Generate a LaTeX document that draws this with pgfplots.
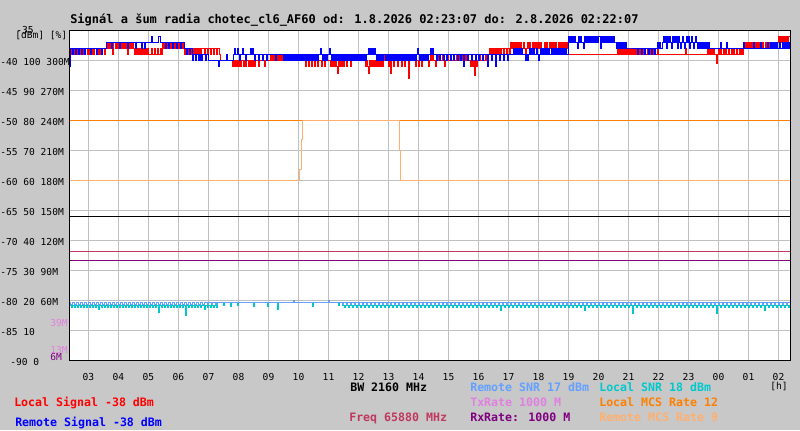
\documentclass[border=0pt]{standalone}
\usepackage{fontspec}
\setmainfont{DejaVu Sans Mono}
\usepackage{pgfplots}
\pgfplotsset{compat=1.18}
\definecolor{bggray}{RGB}{200,200,200}
\definecolor{gridgray}{RGB}{192,192,192}
\definecolor{rsnr}{RGB}{100,160,255}
\definecolor{lsnr}{RGB}{0,200,204}
\definecolor{freqc}{RGB}{192,56,96}
\definecolor{txc}{RGB}{224,128,224}
\definecolor{rxc}{RGB}{128,0,128}
\definecolor{lmcs}{RGB}{255,128,0}
\definecolor{rmcs}{RGB}{255,176,112}
\newcommand{\tlfont}{\fontsize{7.2}{8}\selectfont}
\newcommand{\lgfont}{\fontsize{8.7}{10}\selectfont\bfseries}
\begin{document}
\begin{tikzpicture}
\fill[bggray] (-52.5pt,-52.5pt) rectangle (547.5pt,270pt);
\begin{axis}[
  at={(0pt,0pt)}, anchor=south west, scale only axis,
  width=540pt, height=247.5pt,
  xmin=143, xmax=1583, ymin=-90, ymax=-35, enlargelimits=false,
  axis background/.style={fill=white},
  axis line style={black, line width=0.75pt},
  xtick={180,240,300,360,420,480,540,600,660,720,780,840,900,960,1020,1080,1140,1200,1260,1320,1380,1440,1500,1560},
  xticklabels={03,04,05,06,07,08,09,10,11,12,13,14,15,16,17,18,19,20,21,22,23,00,01,02},
  ytick={-90,-85,-80,-75,-70,-65,-60,-55,-50,-45,-40},
  yticklabels={{\hspace*{7.5pt}-90 0},{-85 10},{-80 20 60M},{-75 30 90M},{-70 40 120M},{-65 50 150M},{-60 60 180M},{-55 70 210M},{-50 80 240M},{-45 90 270M},{-40 100 300M}},
  xticklabel style={font=\tlfont, anchor=base, inner sep=0pt, yshift=-15.5pt},
  yticklabel style={font=\tlfont, anchor=base west, inner sep=0pt, xshift=-52.5pt, yshift=-3.9pt},
  major tick length=0pt,
  grid=major, major grid style={gridgray, line width=0.75pt},
  every axis plot/.append style={line width=0.75pt, mark=none},
]
% Local MCS
\addplot[lmcs] coordinates {(143,-50) (1583,-50)};
% Remote MCS
\addplot[rmcs, const plot] coordinates {(143,-60) (602,-58.33) (605,-53.33) (607,-50) (801,-55) (803,-60) (1583,-60)};
% BW
\addplot[black] coordinates {(143,-66) (1583,-66)};
% Freq
\addplot[freqc] coordinates {(143,-71.88) (1583,-71.88)};
% RxRate
\addplot[rxc] coordinates {(143,-73.38) (1583,-73.38)};
% Local SNR
\addplot[lsnr, const plot] coordinates {
(143,-80.9)(147,-81.3)(149,-80.9)(153,-81.3)(155,-80.9)(159,-81.3)(161,-80.9)(165,-81.3)(167,-80.9)(171,-81.3)(173,-80.9)(177,-81.3)(179,-80.9)(183,-81.3)(185,-80.9)(189,-81.3)(191,-80.9)(195,-81.3)(197,-80.9)(201,-81.6)(203,-80.9)(207,-81.3)(209,-80.9)(213,-81.3)(215,-80.9)(219,-81.3)(221,-80.9)(225,-81.3)(227,-80.9)(231,-81.3)(233,-80.9)(237,-81.3)(239,-80.9)(243,-81.3)(245,-80.9)(249,-81.3)(251,-80.9)(255,-81.3)(257,-80.9)(261,-81.3)(263,-80.9)(267,-81.3)(269,-80.9)(273,-81.3)(275,-80.9)(279,-81.3)(281,-80.9)(285,-81.3)(287,-80.9)(291,-81.3)(293,-80.9)(297,-81.3)(299,-80.9)(303,-81.3)(305,-80.9)(309,-81.3)(311,-80.9)(315,-81.3)(317,-80.9)(321,-82.1)(323,-80.9)(327,-81.3)(329,-80.9)(333,-81.3)(335,-80.9)(339,-81.3)(341,-80.9)(345,-81.3)(347,-80.9)(351,-81.3)(353,-80.9)(357,-81.3)(359,-80.9)(363,-81.3)(365,-80.9)(369,-81.3)(371,-80.9)(375,-82.5)(377,-80.9)(381,-81.3)(383,-80.9)(387,-81.3)(389,-80.9)(393,-81.3)(395,-80.9)(399,-81.3)(401,-80.9)(405,-81.3)(407,-80.9)(411,-81.6)(413,-80.9)(417,-81.3)(419,-80.9)(423,-81.3)(425,-80.9)(429,-81.3)(431,-80.9)(435,-81.3)
(437,-80.45)(449,-80.9)(451,-80.45)(463,-81)(465,-80.45)(477,-80.9)(479,-80.45)(509,-81)(511,-80.45)(537,-81)(539,-80.45)(557,-81.5)(559,-80.45)(627,-81)(629,-80.45)(679,-80.9)(681,-80.45)(687,-80.9)
(691,-81.3)(694,-80.9)(699,-81.3)(702,-80.9)(707,-81.3)(710,-80.9)(715,-81.3)(718,-80.9)(723,-81.3)(726,-80.9)(731,-81.3)(734,-80.9)(739,-81.3)(742,-80.9)(747,-81.3)(750,-80.9)(755,-81.3)(758,-80.9)(763,-81.3)(766,-80.9)(771,-81.3)(774,-80.9)(779,-81.3)(782,-80.9)(787,-81.3)(790,-80.9)(795,-81.3)(798,-80.9)(803,-81.3)(806,-80.9)(811,-81.3)(814,-80.9)(819,-81.3)(822,-80.9)(827,-81.3)(830,-80.9)(835,-81.3)(838,-80.9)(843,-81.3)(846,-80.9)(851,-81.3)(854,-80.9)(859,-81.3)(862,-80.9)(867,-81.3)(870,-80.9)(875,-81.3)(878,-80.9)(883,-81.3)(886,-80.9)(891,-81.3)(894,-80.9)(899,-81.3)(902,-80.9)(907,-81.3)(910,-80.9)(915,-81.3)(918,-80.9)(923,-81.3)(926,-80.9)(931,-81.3)(934,-80.9)(939,-81.3)(942,-80.9)(947,-81.3)(950,-80.9)(955,-81.3)(958,-80.9)(963,-81.3)(966,-80.9)(971,-81.3)(974,-80.9)(979,-81.3)(982,-80.9)(987,-81.3)(990,-80.9)(995,-81.3)(998,-80.9)(1003,-81.7)(1006,-80.9)(1011,-81.3)(1014,-80.9)(1019,-81.3)(1022,-80.9)(1027,-81.3)(1030,-80.9)(1035,-81.3)(1038,-80.9)(1043,-81.3)(1046,-80.9)(1051,-81.3)(1054,-80.9)(1059,-81.3)(1062,-80.9)(1067,-81.3)(1070,-80.9)(1075,-81.3)(1078,-80.9)(1083,-81.3)(1086,-80.9)(1091,-81.3)(1094,-80.9)(1099,-81.3)(1102,-80.9)(1107,-81.3)(1110,-80.9)(1115,-81.3)(1118,-80.9)(1123,-81.3)(1126,-80.9)(1131,-81.3)(1134,-80.9)(1139,-81.3)(1142,-80.9)(1147,-81.3)(1150,-80.9)(1155,-81.3)(1158,-80.9)(1163,-81.3)(1166,-80.9)(1171,-81.7)(1174,-80.9)(1179,-81.3)(1182,-80.9)(1187,-81.3)(1190,-80.9)(1195,-81.3)(1198,-80.9)(1203,-81.3)(1206,-80.9)(1211,-81.3)(1214,-80.9)(1219,-81.3)(1222,-80.9)(1227,-81.3)(1230,-80.9)(1235,-81.3)(1238,-80.9)(1243,-81.3)(1246,-80.9)(1251,-81.3)(1254,-80.9)(1259,-81.3)(1262,-80.9)(1267,-82.2)(1270,-80.9)(1275,-81.3)(1278,-80.9)(1283,-81.3)(1286,-80.9)(1291,-81.3)(1294,-80.9)(1299,-81.3)(1302,-80.9)(1307,-81.3)(1310,-80.9)(1315,-81.3)(1318,-80.9)(1323,-81.3)(1326,-80.9)(1331,-81.3)(1334,-80.9)(1339,-81.3)(1342,-80.9)(1347,-81.3)(1350,-80.9)(1355,-81.3)(1358,-80.9)(1363,-81.3)(1366,-80.9)(1371,-81.3)(1374,-80.9)(1379,-81.3)(1382,-80.9)(1387,-81.3)(1390,-80.9)(1395,-81.3)(1398,-80.9)(1403,-81.3)(1406,-80.9)(1411,-81.3)(1414,-80.9)(1419,-81.3)(1422,-80.9)(1427,-81.3)(1430,-80.9)(1435,-82.2)(1438,-80.9)(1443,-81.3)(1446,-80.9)(1451,-81.3)(1454,-80.9)(1459,-81.3)(1462,-80.9)(1467,-81.3)(1470,-80.9)(1475,-81.3)(1478,-80.9)(1483,-81.3)(1486,-80.9)(1491,-81.3)(1494,-80.9)(1499,-81.3)(1502,-80.9)(1507,-81.3)(1510,-80.9)(1515,-81.3)(1518,-80.9)(1523,-81.3)(1526,-80.9)(1531,-81.7)(1534,-80.9)(1539,-81.3)(1542,-80.9)(1547,-81.3)(1550,-80.9)(1555,-81.3)(1558,-80.9)(1563,-81.3)(1566,-80.9)(1571,-81.3)(1574,-80.9)(1579,-81.3)(1582,-80.9)(1583,-80.9)
};
% Remote SNR
\addplot[rsnr, const plot] coordinates {
(143,-80.45)(145,-80.8)(148,-80.45)(153,-80.8)(156,-80.45)(161,-80.8)(164,-80.45)(169,-80.8)(172,-80.45)(177,-80.8)(180,-80.45)(185,-80.8)(188,-80.45)(193,-80.8)(196,-80.45)(201,-80.8)(204,-80.45)(209,-80.8)(212,-80.45)(217,-80.8)(220,-80.45)(225,-80.8)(228,-80.45)(233,-80.8)(236,-80.45)(241,-80.8)(244,-80.45)(249,-80.8)(252,-80.45)(257,-80.8)(260,-80.45)(265,-80.8)(268,-80.45)(273,-80.8)(276,-80.45)(281,-80.8)(284,-80.45)(289,-80.8)(292,-80.45)(297,-80.8)(300,-80.45)(305,-80.8)(308,-80.45)(313,-80.8)(316,-80.45)(321,-80.8)(324,-80.45)(329,-80.8)(332,-80.45)(337,-80.8)(340,-80.45)(345,-80.8)(348,-80.45)(353,-80.8)(356,-80.45)(361,-80.8)(364,-80.45)(369,-80.8)(372,-80.45)(377,-80.8)(380,-80.45)(385,-80.8)(388,-80.45)(393,-80.8)(396,-80.45)(401,-80.8)(404,-80.45)(409,-80.8)(412,-80.45)(417,-80.8)(420,-80.45)(425,-80.8)(428,-80.45)(433,-80.8)(436,-80.45)
(589,-80.1)(591,-80.45)(659,-80.1)(661,-80.45)
(687,-80.8)(690,-80.45)(695,-80.8)(698,-80.45)(703,-80.8)(706,-80.45)(711,-80.8)(714,-80.45)(719,-80.8)(722,-80.45)(727,-80.8)(730,-80.45)(735,-80.8)(738,-80.45)(743,-80.8)(746,-80.45)(751,-80.8)(754,-80.45)(759,-80.8)(762,-80.45)(767,-80.8)(770,-80.45)(775,-80.8)(778,-80.45)(783,-80.8)(786,-80.45)(791,-80.8)(794,-80.45)(799,-80.8)(802,-80.45)(807,-80.8)(810,-80.45)(815,-80.8)(818,-80.45)(823,-80.8)(826,-80.45)(831,-80.8)(834,-80.45)(839,-80.8)(842,-80.45)(847,-80.8)(850,-80.45)(855,-80.8)(858,-80.45)(863,-80.8)(866,-80.45)(871,-80.8)(874,-80.45)(879,-80.8)(882,-80.45)(887,-80.8)(890,-80.45)(895,-80.8)(898,-80.45)(903,-80.8)(906,-80.45)(911,-80.8)(914,-80.45)(919,-80.8)(922,-80.45)(927,-80.8)(930,-80.45)(935,-80.8)(938,-80.45)(943,-80.8)(946,-80.45)(951,-80.8)(954,-80.45)(959,-80.8)(962,-80.45)(967,-80.8)(970,-80.45)(975,-80.8)(978,-80.45)(983,-80.8)(986,-80.45)(991,-80.8)(994,-80.45)(999,-80.8)(1002,-80.45)(1007,-80.8)(1010,-80.45)(1015,-80.8)(1018,-80.45)(1023,-80.8)(1026,-80.45)(1031,-80.8)(1034,-80.45)(1039,-80.8)(1042,-80.45)(1047,-80.8)(1050,-80.45)(1055,-80.8)(1058,-80.45)(1063,-80.8)(1066,-80.45)(1071,-80.8)(1074,-80.45)(1079,-80.8)(1082,-80.45)(1087,-80.8)(1090,-80.45)(1095,-80.8)(1098,-80.45)(1103,-80.8)(1106,-80.45)(1111,-80.8)(1114,-80.45)(1119,-80.8)(1122,-80.45)(1127,-80.8)(1130,-80.45)(1135,-80.8)(1138,-80.45)(1143,-80.8)(1146,-80.45)(1151,-80.8)(1154,-80.45)(1159,-80.8)(1162,-80.45)(1167,-80.8)(1170,-80.45)(1175,-80.8)(1178,-80.45)(1183,-80.8)(1186,-80.45)(1191,-80.8)(1194,-80.45)(1199,-80.8)(1202,-80.45)(1207,-80.8)(1210,-80.45)(1215,-80.8)(1218,-80.45)(1223,-80.8)(1226,-80.45)(1231,-80.8)(1234,-80.45)(1239,-80.8)(1242,-80.45)(1247,-80.8)(1250,-80.45)(1255,-80.8)(1258,-80.45)(1263,-80.8)(1266,-80.45)(1271,-80.8)(1274,-80.45)(1279,-80.8)(1282,-80.45)(1287,-80.8)(1290,-80.45)(1295,-80.8)(1298,-80.45)(1303,-80.8)(1306,-80.45)(1311,-80.8)(1314,-80.45)(1319,-80.8)(1322,-80.45)(1327,-80.8)(1330,-80.45)(1335,-80.8)(1338,-80.45)(1343,-80.8)(1346,-80.45)(1351,-80.8)(1354,-80.45)(1359,-80.8)(1362,-80.45)(1367,-80.8)(1370,-80.45)(1375,-80.8)(1378,-80.45)(1383,-80.8)(1386,-80.45)(1391,-80.8)(1394,-80.45)(1399,-80.8)(1402,-80.45)(1407,-80.8)(1410,-80.45)(1415,-80.8)(1418,-80.45)(1423,-80.8)(1426,-80.45)(1431,-80.8)(1434,-80.45)(1439,-80.8)(1442,-80.45)(1447,-80.8)(1450,-80.45)(1455,-80.8)(1458,-80.45)(1463,-80.8)(1466,-80.45)(1471,-80.8)(1474,-80.45)(1479,-80.8)(1482,-80.45)(1487,-80.8)(1490,-80.45)(1495,-80.8)(1498,-80.45)(1503,-80.8)(1506,-80.45)(1511,-80.8)(1514,-80.45)(1519,-80.8)(1522,-80.45)(1527,-80.8)(1530,-80.45)(1535,-80.8)(1538,-80.45)(1543,-80.8)(1546,-80.45)(1551,-80.8)(1554,-80.45)(1559,-80.8)(1562,-80.45)(1567,-80.8)(1570,-80.45)(1575,-80.8)(1578,-80.45)(1583,-80.45)
};
% Local Signal
\addplot[red, const plot] coordinates {
(143,-38)(147,-39)(149,-38)(151,-39)(153,-38)(155,-39)(157,-38)(159,-39)(161,-38)(163,-39)(165,-38)(167,-39)(169,-38)(171,-39)(173,-38)
(179,-39)(181,-38)(183,-39)(185,-38)(187,-39)(189,-38)(191,-39)(193,-38)
(199,-39)(201,-38)(203,-39)(205,-38)(213,-39)(215,-38)
(217,-37)(219,-38)(221,-37)(223,-38)(225,-37)(229,-39)(231,-37)(235,-38)(237,-37)(239,-38)(241,-37)(243,-38)(245,-37)(247,-38)(249,-37)(251,-38)(253,-37)(255,-38)(257,-37)(259,-39)(261,-37)(263,-38)(265,-37)(267,-38)(269,-37)(271,-38)
(273,-39)(275,-38)(277,-39)(279,-38)(281,-39)(283,-38)(285,-39)(287,-38)(289,-39)(291,-38)(293,-39)(295,-38)(297,-39)(299,-38)(301,-39)(307,-38)(309,-39)(313,-38)(315,-39)(319,-38)(321,-39)(325,-38)(327,-39)
(329,-37)(331,-38)(333,-37)(335,-38)(337,-37)(339,-38)(341,-37)(343,-38)(345,-37)(347,-38)(349,-37)(351,-38)(353,-37)(355,-38)(357,-37)(359,-38)(361,-37)(363,-38)(365,-37)(367,-38)(369,-37)(371,-38)
(373,-39)(375,-38)(377,-39)(379,-38)(381,-39)(383,-38)(385,-39)(387,-38)(389,-39)(391,-38)(393,-39)(395,-38)(397,-39)(399,-38)(401,-39)(403,-38)(405,-39)(407,-38)(411,-39)(413,-38)(417,-39)(419,-38)(423,-39)(425,-38)(429,-39)(431,-38)(435,-39)(437,-38)(441,-39)
(443,-40)
(467,-41)(469,-40)(471,-41)(473,-40)(475,-41)(477,-40)(479,-41)(481,-40)(483,-41)(485,-40)(489,-41)(491,-40)(493,-41)(495,-40)(499,-41)(501,-40)(503,-41)(505,-40)(507,-41)(509,-40)(511,-41)(513,-40)
(519,-41)(521,-40)(531,-41)(533,-40)
(543,-39)(545,-40)(547,-39)(549,-40)(551,-39)(553,-40)(555,-39)(557,-40)(559,-39)(561,-40)(563,-39)(565,-40)(567,-39)(569,-40)
(613,-41)(615,-40)(619,-41)(621,-40)(625,-41)(627,-40)(631,-41)(633,-40)(637,-41)(639,-40)(645,-41)(647,-40)(651,-41)(653,-40)
(663,-41)(665,-40)(667,-41)(669,-40)(671,-41)(673,-40)(675,-41)(677,-42.3)(679,-40)(681,-41)(683,-40)(685,-41)(687,-40)(689,-41)(691,-40)
(695,-41)(697,-40)(703,-41)(705,-40)
(733,-41)(735,-40)(737,-41)(739,-42.3)(741,-40)(743,-41)(745,-40)(747,-41)(749,-40)(751,-41)(753,-40)(755,-41)(757,-40)(759,-41)(761,-40)(763,-41)(765,-40)(767,-41)(769,-40)
(771,-39)(773,-40)
(779,-41)(781,-40)(783,-42.3)(785,-40)(789,-41)(791,-40)(797,-41)(799,-40)(805,-41)(807,-40)(811,-41)(813,-40)
(819,-43)(821,-40)
(833,-41)(835,-40)(839,-41)(841,-40)(845,-41)(847,-40)(859,-41)(861,-40)
(863,-39)(865,-40)(867,-39)(869,-40)(873,-41)(875,-40)(877,-39)(879,-40)(881,-39)(883,-40)(887,-39)(889,-40)(891,-41)(893,-40)(897,-39)(899,-40)(903,-39)(905,-40)(909,-39)(911,-40)(915,-39)(917,-40)(921,-39)(923,-40)(927,-39)(929,-40)(933,-39)(935,-40)(943,-41)(945,-40)(947,-41)(949,-40)(951,-42.5)(953,-40)(955,-41)(957,-40)(961,-39)(963,-40)(967,-39)(969,-40)(973,-39)(975,-40)
(979,-39)(981,-38)(983,-39)(985,-38)(987,-39)(989,-38)(991,-39)(993,-38)(995,-39)(997,-38)(999,-39)(1001,-38)(1003,-39)(1005,-38)(1009,-39)(1011,-38)(1015,-39)(1017,-38)(1021,-39)
(1023,-37)(1025,-38)(1027,-37)(1029,-38)(1031,-37)(1033,-38)(1035,-37)(1037,-38)(1039,-37)(1041,-38)(1043,-37)(1045,-38)(1049,-37)(1051,-38)(1053,-39)(1055,-38)(1057,-37)(1059,-38)(1061,-37)(1063,-38)(1067,-37)(1069,-38)(1071,-37)(1073,-38)(1075,-37)(1077,-38)(1079,-37)(1081,-38)(1083,-37)(1085,-38)(1087,-39)(1089,-38)(1091,-37)(1093,-38)(1095,-37)(1097,-38)(1101,-37)(1103,-38)(1105,-37)(1107,-38)(1109,-37)(1111,-38)(1113,-37)(1115,-38)(1119,-37)(1121,-38)(1123,-37)(1125,-38)(1127,-37)(1129,-38)(1131,-37)(1133,-38)(1135,-37)(1137,-38)
(1139,-39)
(1237,-38)(1239,-39)(1241,-38)(1243,-39)(1245,-38)(1247,-39)(1249,-38)(1251,-39)(1253,-38)(1255,-39)(1257,-38)(1259,-39)(1261,-38)(1263,-39)(1265,-38)(1267,-39)(1269,-38)(1271,-39)(1273,-38)(1275,-39)(1277,-38)(1279,-39)(1281,-38)(1283,-39)(1287,-38)(1289,-39)(1291,-38)(1293,-39)(1297,-38)(1299,-39)(1301,-38)(1303,-39)(1307,-38)(1309,-39)(1311,-38)(1313,-39)(1317,-38)(1319,-39)
(1373,-38)(1375,-39)
(1417,-38)(1419,-39)(1421,-38)(1423,-39)(1425,-38)(1427,-39)(1429,-38)(1431,-39)(1435,-40.5)(1437,-39)(1439,-38)(1441,-39)(1443,-38)(1445,-39)(1449,-38)(1451,-39)(1453,-38)(1455,-39)(1459,-38)(1461,-39)(1465,-38)(1467,-39)(1469,-38)(1471,-39)(1475,-38)(1477,-39)(1481,-38)(1483,-39)(1485,-38)(1487,-39)
(1489,-38)(1491,-37)(1493,-38)(1495,-37)(1497,-38)(1499,-37)(1501,-38)(1503,-37)(1505,-38)(1507,-37)(1509,-38)(1511,-37)(1513,-38)(1515,-37)(1517,-38)(1519,-37)(1521,-38)(1523,-37)(1525,-38)(1527,-37)(1529,-38)(1533,-37)(1535,-38)(1539,-37)(1541,-38)
(1557,-37)(1559,-36)(1561,-37)(1563,-36)(1565,-37)(1567,-36)(1569,-37)(1571,-36)(1573,-37)(1575,-36)(1577,-37)(1579,-36)(1583,-36)
};
% Remote Signal
\addplot[blue, const plot] coordinates {
(143,-41)(145,-38)(149,-39)(151,-38)(155,-39)(157,-38)(161,-39)(163,-38)(167,-39)(169,-38)(173,-39)(175,-38)(185,-39)(187,-38)(197,-39)(199,-38)(207,-39)(209,-38)
(217,-37)(227,-38)(229,-37)(243,-38)(245,-37)(259,-38)(261,-37)(275,-38)(277,-37)(287,-38)(289,-37)(293,-38)(295,-37)(307,-36)(309,-37)(321,-36)(325,-37)(335,-38)(337,-37)(341,-38)(343,-37)(349,-38)(351,-37)(357,-38)(359,-37)(365,-38)(367,-37)
(373,-38)(377,-39)(379,-38)(383,-39)(385,-38)
(389,-40)(391,-39)(395,-40)(397,-39)(401,-40)(403,-39)(407,-40)(409,-39)(413,-40)(415,-39)(419,-40)(439,-41)(441,-40)(455,-39)(457,-40)
(469,-39)(471,-38)(473,-39)(477,-38)(479,-39)(481,-40)(483,-39)(487,-38)(489,-39)(493,-40)(495,-39)(503,-38)(505,-39)(507,-38)(509,-39)(511,-40)(513,-39)
(519,-40)(521,-39)(527,-40)(529,-39)(535,-40)(537,-39)(553,-40)(555,-39)
(569,-40)(571,-39)(573,-40)(575,-39)(577,-40)(579,-39)(581,-40)(583,-39)(585,-40)(587,-39)(589,-40)(591,-39)(593,-40)(595,-39)(597,-40)(599,-39)(601,-40)(603,-39)(605,-40)(607,-39)(609,-40)(611,-39)(613,-40)(615,-39)(617,-40)(619,-39)(621,-40)(623,-39)(625,-40)(627,-39)(629,-40)(631,-39)(633,-40)(635,-39)(637,-40)(639,-39)(643,-38)(645,-39)(647,-40)(649,-39)(651,-40)(653,-39)(655,-40)(657,-39)(661,-38)(663,-39)(665,-40)(667,-39)(669,-40)(671,-39)(673,-40)(675,-39)(677,-40)(679,-39)(681,-40)(683,-39)(685,-40)(687,-39)(689,-40)(691,-39)(693,-40)(695,-39)(697,-40)(699,-39)(701,-40)(703,-39)(705,-40)(707,-39)(709,-40)(711,-39)(713,-40)(715,-39)(717,-40)(719,-39)(721,-40)(723,-39)(725,-40)(727,-39)(729,-40)(731,-39)(733,-40)(735,-39)
(739,-38)(741,-39)(743,-38)(745,-39)(747,-38)(749,-39)(751,-38)(753,-39)(755,-40)(757,-39)(759,-40)(761,-39)(763,-40)(765,-39)(767,-40)(769,-39)(773,-40)(775,-39)(777,-40)(779,-39)(781,-40)(783,-39)(785,-40)(787,-39)(789,-40)(791,-39)(793,-40)(795,-39)(797,-40)(799,-39)(801,-40)(803,-39)(805,-40)(807,-39)(809,-40)(811,-39)(813,-40)(815,-39)(817,-40)(819,-39)(821,-40)(823,-39)(825,-40)(827,-39)(829,-40)(831,-39)(833,-40)(835,-39)(837,-38)(839,-39)(841,-40)(843,-39)(845,-40)(847,-39)(849,-40)(851,-39)(853,-40)(855,-39)(857,-40)(859,-39)(863,-38)(865,-39)(867,-38)(869,-39)
(875,-40)(877,-39)(881,-40)(883,-39)(889,-40)(891,-39)(895,-40)(897,-39)(903,-40)(905,-39)(909,-40)(911,-39)(917,-40)(919,-39)(923,-40)(925,-39)(929,-41)(931,-39)(937,-40)(939,-39)(945,-40)(947,-39)(953,-40)(955,-39)(959,-40)(961,-39)(967,-40)(969,-39)(977,-41)(979,-39)
(985,-40)(987,-39)(993,-41)(995,-39)(1001,-40)(1003,-39)(1009,-40)(1011,-39)(1017,-40)(1019,-39)
(1029,-38)(1031,-39)(1033,-38)(1035,-39)(1037,-38)(1039,-39)(1041,-38)(1043,-39)(1045,-38)(1047,-39)(1053,-40)(1055,-39)(1057,-40)(1059,-39)(1061,-38)(1063,-39)(1065,-38)(1067,-39)(1069,-38)(1071,-39)(1075,-38)(1077,-39)(1079,-40)(1081,-39)(1083,-38)(1085,-39)(1087,-38)(1089,-39)(1091,-38)(1093,-39)(1095,-38)(1097,-39)(1099,-38)(1101,-39)(1105,-38)(1107,-39)(1109,-38)(1111,-39)(1113,-38)(1115,-39)(1117,-38)(1119,-39)(1121,-38)(1123,-39)(1125,-38)(1127,-39)(1129,-38)(1131,-39)(1133,-38)(1135,-39)
(1139,-36)(1141,-37)(1143,-36)(1145,-37)(1147,-36)(1149,-37)(1151,-36)(1153,-37)(1157,-38)(1159,-36)(1161,-37)(1163,-36)(1165,-37)(1169,-38)(1171,-36)(1173,-37)(1175,-36)(1177,-37)(1179,-36)(1181,-37)(1183,-36)(1185,-37)(1187,-36)(1189,-37)(1191,-36)(1193,-37)(1195,-36)(1197,-37)(1199,-36)(1203,-38)(1205,-36)(1207,-37)(1209,-36)(1211,-37)(1213,-36)(1215,-37)(1217,-36)(1219,-37)(1221,-36)(1223,-37)(1225,-36)(1227,-37)(1229,-36)(1231,-37)
(1233,-37)(1235,-38)(1237,-37)(1239,-38)(1241,-37)(1243,-38)(1245,-37)(1247,-38)(1249,-37)(1251,-38)(1253,-37)(1255,-38)
(1259,-38)(1277,-39)(1279,-38)(1285,-39)(1287,-38)(1291,-39)(1293,-38)(1299,-39)(1301,-38)(1305,-39)(1307,-38)(1311,-39)(1313,-38)
(1317,-37)(1319,-38)(1321,-37)(1323,-38)(1327,-37)(1329,-36)(1331,-37)(1333,-36)(1335,-38)(1337,-36)(1339,-37)(1341,-36)(1343,-37)(1345,-38)(1347,-36)(1349,-37)(1351,-36)(1353,-37)(1355,-36)(1357,-38)(1359,-36)(1361,-37)(1363,-38)(1365,-37)(1367,-36)(1369,-37)(1371,-38)(1373,-37)(1375,-36)(1377,-37)(1379,-36)(1381,-38)(1383,-37)(1385,-36)(1387,-37)(1389,-38)(1391,-37)(1393,-36)(1395,-37)(1397,-38)(1399,-37)(1401,-38)(1403,-37)(1405,-38)(1407,-37)(1409,-38)(1411,-37)(1413,-38)(1415,-37)(1417,-38)(1419,-37)(1421,-38)
(1443,-37)(1445,-38)(1455,-37)(1457,-38)(1489,-37)(1491,-38)(1509,-37)(1511,-38)(1523,-37)(1525,-38)(1537,-37)(1539,-38)
(1543,-37)(1545,-38)(1547,-37)(1549,-38)(1551,-37)(1553,-38)(1555,-37)(1557,-38)(1561,-37)(1563,-38)(1567,-37)(1569,-38)(1571,-37)(1573,-38)(1575,-37)(1577,-38)(1579,-37)(1581,-38)(1583,-38)
};
\end{axis}
% title and header texts
\node[anchor=base west, inner sep=0pt, font=\fontsize{9}{10}\selectfont\bfseries] at (0pt,252.75pt) {Signál a šum radia chotec\_cl6\_AF60 od: 1.8.2026 02:23:07 do: 2.8.2026 02:22:07};
\node[anchor=base west, inner sep=0pt, font=\tlfont] at (-40.5pt,245pt) {-35};
\node[anchor=base west, inner sep=0pt, font=\tlfont] at (-41.25pt,241.5pt) {[dBm] [\%]};
% coloured scale labels
\node[anchor=base west, inner sep=0pt, font=\tlfont, text=txc] at (-15pt,25.5pt) {39M};
\node[anchor=base west, inner sep=0pt, font=\tlfont, text=txc] at (-15pt,5.25pt) {13M};
\node[anchor=base west, inner sep=0pt, font=\tlfont, text=rxc] at (-15pt,0pt) {6M};
% bottom legend texts
\node[anchor=base west, inner sep=0pt, font=\lgfont, text=black] at (210pt,-23.25pt) {BW 2160 MHz};
\node[anchor=base west, inner sep=0pt, font=\lgfont, text=rsnr] at (300pt,-23.25pt) {Remote SNR 17 dBm};
\node[anchor=base west, inner sep=0pt, font=\lgfont, text=lsnr] at (396.75pt,-23.25pt) {Local SNR 18 dBm};
\node[anchor=base west, inner sep=0pt, font=\tlfont, text=black] at (525pt,-21.75pt) {[h]};
\node[anchor=base west, inner sep=0pt, font=\lgfont, text=red] at (-42pt,-34.5pt) {Local Signal -38 dBm};
\node[anchor=base west, inner sep=0pt, font=\lgfont, text=txc] at (300pt,-34.5pt) {TxRate 1000 M};
\node[anchor=base west, inner sep=0pt, font=\lgfont, text=lmcs] at (396.75pt,-34.5pt) {Local MCS Rate 12};
\node[anchor=base west, inner sep=0pt, font=\lgfont, text=freqc] at (209.25pt,-45.75pt) {Freq 65880 MHz};
\node[anchor=base west, inner sep=0pt, font=\lgfont, text=rxc] at (300pt,-45.75pt) {RxRate: 1000 M};
\node[anchor=base west, inner sep=0pt, font=\lgfont, text=rmcs] at (396.75pt,-45.75pt) {Remote MCS Rate 9};
\node[anchor=base west, inner sep=0pt, font=\lgfont, text=blue] at (-41.25pt,-49.5pt) {Remote Signal -38 dBm};
\pgfresetboundingbox
\path[use as bounding box] (-52.5pt,-52.5pt) rectangle (547.5pt,270pt);
\end{tikzpicture}
\end{document}
